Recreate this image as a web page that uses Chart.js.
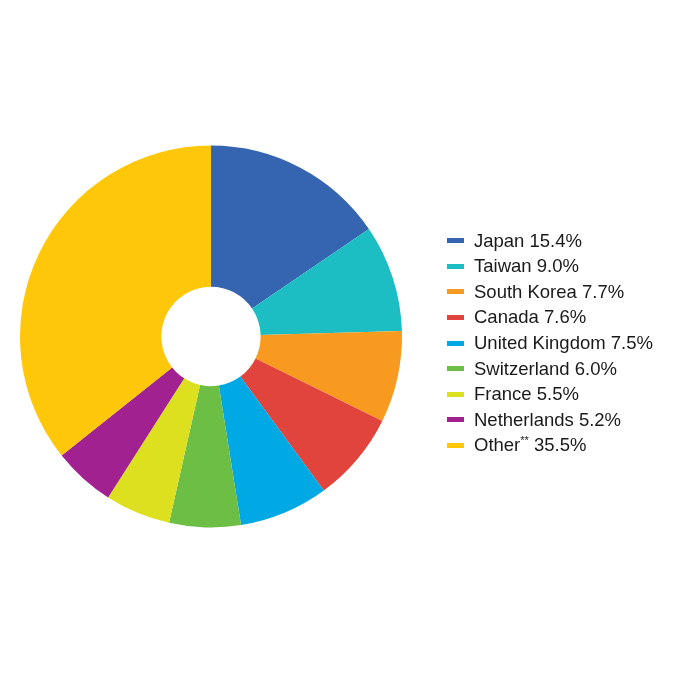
<!doctype html>
<html>
<head>
<meta charset="utf-8">
<title>Share by country</title>
<script src="https://cdn.jsdelivr.net/npm/chart.js"></script>
<style>
  html, body { margin: 0; padding: 0; background: #fff; }
  #wrap { position: relative; width: 696px; height: 684px; }
  #legend {
    position: absolute; left: 447px; top: 227.7px;
    font-family: "Liberation Sans", Arial, sans-serif; font-size: 18.5px; color: #1a1a1a;
    margin: 0; padding: 0; list-style: none;
  }
  #legend li { height: 25.6px; line-height: 25.6px; white-space: nowrap; }
  #legend .box { display: inline-block; width: 17px; height: 5px; margin-right: 10px; vertical-align: middle; position: relative; top: -1px; }
  #legend sup { font-size: 11px; line-height: 0; vertical-align: 7px; }
</style>
</head>
<body>
<div id="wrap">
  <canvas id="chart" width="696" height="684"></canvas>
  <ul id="legend"></ul>
</div>

<script>
  const categories = ['Japan', 'Taiwan', 'South Korea', 'Canada', 'United Kingdom', 'Switzerland', 'France', 'Netherlands', 'Other']
  const notes = ['', '', '', '', '', '', '', '', '**']
  const shares = [15.4, 9.0, 7.7, 7.6, 7.5, 6.0, 5.5, 5.2, 35.5]
  const colors = ['#3565b0', '#1cbec4', '#f89a20', '#e0443c', '#00a8e4', '#6cbe45', '#dce01f', '#a0218f', '#ffc709']

  const chart = new Chart(document.getElementById('chart'), {
    type: 'doughnut',
    data: {
      labels: categories,
      datasets: [{
        data: shares,
        backgroundColor: colors,
        borderWidth: 0,
        hoverOffset: 0
      }]
    },
    options: {
      responsive: false,
      animation: false,
      cutout: '26%',
      layout: { padding: { left: 20, right: 294, top: 145.5, bottom: 156.5 } },
      plugins: {
        legend: { display: false },
        tooltip: { enabled: false }
      }
    }
  })

  // html legend so the footnote marks can be superscript
  const ul = document.getElementById('legend')
  chart.data.labels.forEach((label, i) => {
    const li = document.createElement('li')
    const box = document.createElement('span')
    box.className = 'box'
    box.style.background = chart.data.datasets[0].backgroundColor[i]
    li.appendChild(box)
    li.appendChild(document.createTextNode(label))
    if (notes[i]) {
      const sup = document.createElement('sup')
      sup.textContent = notes[i]
      li.appendChild(sup)
    }
    li.appendChild(document.createTextNode(' ' + chart.data.datasets[0].data[i].toFixed(1) + '%'))
    ul.appendChild(li)
  })
</script>
</body>
</html>
